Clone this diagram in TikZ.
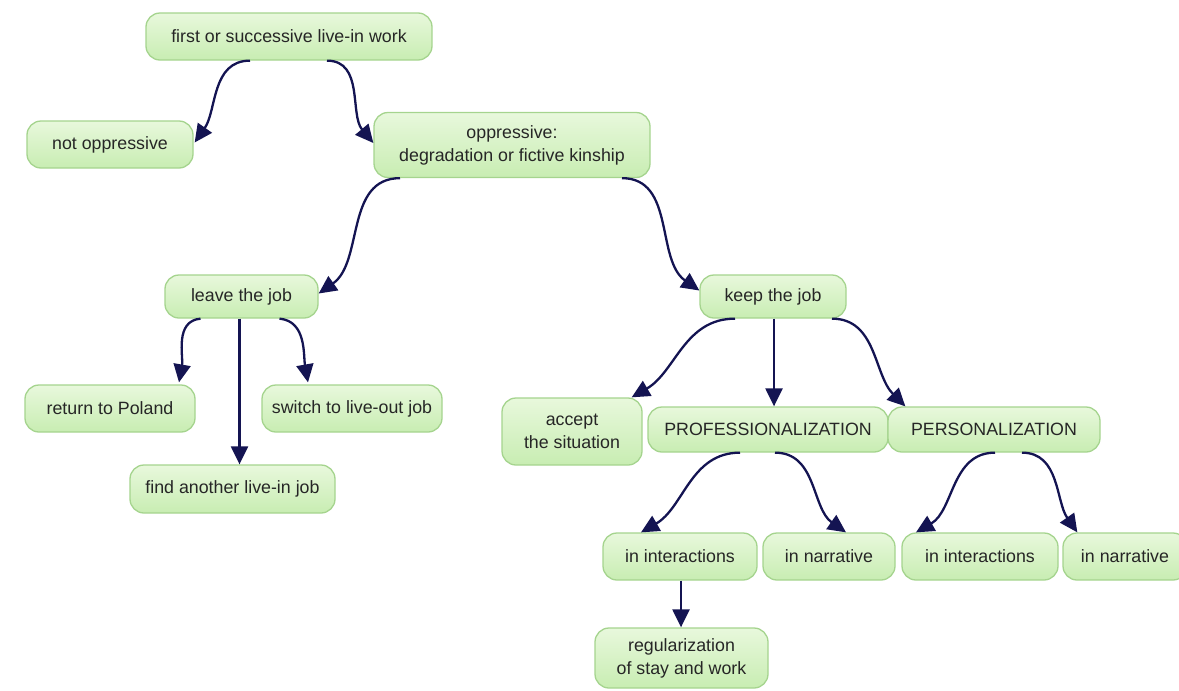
\documentclass[tikz,border=0pt]{standalone}
\usepackage{fontspec}
\setmainfont{Liberation Sans}
\usetikzlibrary{arrows.meta,calc}
\definecolor{boxtop}{RGB}{232,248,220}
\definecolor{boxbot}{RGB}{200,237,178}
\definecolor{boxline}{RGB}{165,212,142}
\definecolor{arr}{RGB}{20,20,82}
\definecolor{txt}{RGB}{38,38,38}
\begin{document}
\begin{tikzpicture}[x=1pt,y=1pt,
  box/.style={draw=boxline, line width=1.3pt, rounded corners=14pt, top color=boxtop, bottom color=boxbot,
    text=txt, font=\fontsize{17.8}{23}\selectfont, align=center, inner sep=0pt},
  con/.style={draw=arr, line width=2.3pt, -{Triangle[length=18pt,width=17pt]}}]
\useasboundingbox (0,0) rectangle (1179,-691);
\clip (0,0) rectangle (1179,-691);

\node[box, minimum width=286, minimum height=47] (top) at (289,-36.5) {first or successive live-in work};
\node[box, minimum width=166, minimum height=47] (notopp) at (110,-144.5) {not oppressive};
\node[box, minimum width=276, minimum height=65] (opp) at (512,-145) {oppressive:\\degradation or fictive kinship};
\node[box, minimum width=153, minimum height=43] (leave) at (241.5,-296.5) {leave the job};
\node[box, minimum width=146, minimum height=43] (keep) at (773,-296.5) {keep the job};
\node[box, minimum width=170, minimum height=47] (ret) at (110,-408.5) {return to Poland};
\node[box, minimum width=180, minimum height=47] (switch) at (352,-408.5) {switch to live-out job};
\node[box, minimum width=205, minimum height=48] (find) at (232.5,-489) {find another live-in job};
\node[box, minimum width=140, minimum height=67] (acc) at (572,-431.5) {accept\\the situation};
\node[box, minimum width=240, minimum height=45] (prof) at (768,-429.5) {PROFESSIONALIZATION};
\node[box, minimum width=212, minimum height=45] (pers) at (994,-429.5) {PERSONALIZATION};
\node[box, minimum width=154, minimum height=47] (intL) at (680,-556.5) {in interactions};
\node[box, minimum width=132, minimum height=47] (narL) at (829,-556.5) {in narrative};
\node[box, minimum width=156, minimum height=47] (intR) at (980,-556.5) {in interactions};
\node[box, minimum width=124, minimum height=47] (narR) at (1125,-556.5) {in narrative};
\node[box, minimum width=173, minimum height=60] (reg) at (681.5,-658) {regularization\\of stay and work};

\draw[con] ($(top.south)+(-39,0)$) to[out=180,in=55] ($(notopp.east)+(1,2)$);
\draw[con] ($(top.south)+(38,0)$) to[out=0,in=130] ($(opp.west)+(0,2)$);
\draw[con] ($(opp.south)+(-112,0)$) to[out=180,in=35] ($(leave.east)+(0,3)$);
\draw[con] ($(opp.south)+(110,0)$) to[out=0,in=145] ($(keep.west)+(0,6)$);
\draw[con] ($(leave.south)+(-41,0)$) to[out=185,in=80] ($(ret.north)+(69,2)$);
\draw[con] ($(leave.south)+(-2,0)$) -- ($(leave.south |- find.north)+(-2,0)$);
\draw[con] ($(leave.south)+(38,0)$) to[out=-5,in=100] ($(switch.north)+(-44,2)$);
\draw[con] ($(keep.south)+(-38,0)$) to[out=180,in=30] ($(acc.north east)+(-11,0)$);
\draw[con] ($(keep.south)+(1,0)$) -- ($(keep.south |- prof.north)+(1,0)$);
\draw[con] ($(keep.south)+(59,0)$) to[out=0,in=135] ($(pers.north west)+(18,0)$);
\draw[con] ($(prof.south)+(-28,0)$) to[out=180,in=30] ($(intL.north)+(-39,0)$);
\draw[con] ($(prof.south)+(7,0)$) to[out=0,in=145] ($(narL.north)+(17,0)$);
\draw[con] ($(pers.south)+(1,0)$) to[out=180,in=30] ($(intR.north)+(-64,0)$);
\draw[con] ($(pers.south)+(28,0)$) to[out=0,in=125] ($(narR.north west)+(15,0)$);
\draw[con] ($(intL.south)+(1,0)$) -- ($(intL.south |- reg.north)+(1,0)$);
\end{tikzpicture}
\end{document}
